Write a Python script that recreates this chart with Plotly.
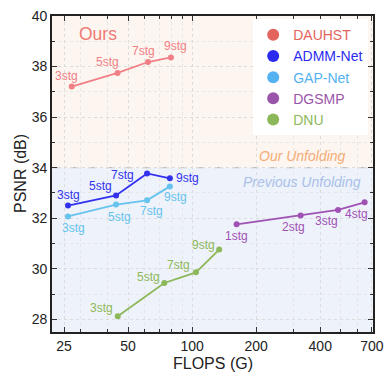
import plotly.graph_objects as go
import math

# Data
dauhst_flops = [27.17, 44.61, 62.05, 79.50]
dauhst_psnr = [37.21, 37.75, 38.18, 38.36]
dauhst_lab = ["3stg", "5stg", "7stg", "9stg"]

admm_flops = [26.1, 43.9, 61.4, 78.6]
admm_psnr = [32.50, 32.90, 33.77, 33.58]
admm_lab = ["3stg", "5stg", "7stg", "9stg"]

gap_flops = [26.1, 43.9, 61.4, 78.6]
gap_psnr = [32.07, 32.54, 32.71, 33.26]
gap_lab = ["3stg", "5stg", "7stg", "9stg"]

dgsmp_flops = [161.8, 323.6, 485.0, 646.7]
dgsmp_psnr = [31.76, 32.11, 32.33, 32.63]
dgsmp_lab = ["1stg", "2stg", "3stg", "4stg"]

dnu_flops = [44.7, 74.0, 104.2, 134.0]
dnu_psnr = [28.12, 29.44, 29.86, 30.76]
dnu_lab = ["3stg", "5stg", "7stg", "9stg"]

x_ticks = [25, 50, 100, 200, 400, 700]
x_minor = [30, 40, 60, 70, 80, 90, 300, 500, 600]
y_ticks = [28, 30, 32, 34, 36, 38, 40]

XMIN, XMAX = 21.95, 708
YMIN, YMAX = 27.5, 40
SPLIT = 34

FONT = "Liberation Sans"

# (name, x, y, labels, line colour, legend colour, label offsets in px (dx, dy-down))
series = [
    ("DAUHST", dauhst_flops, dauhst_psnr, dauhst_lab, "#f07f86", "#e3645c",
     [(-5, -11), (-10, -11), (-5, -11), (5, -11)]),
    ("ADMM-Net", admm_flops, admm_psnr, admm_lab, "#3232ee", "#2b2bf0",
     [(0, -11), (-16, -9), (-25, 2), (18, 0)]),
    ("GAP-Net", gap_flops, gap_psnr, gap_lab, "#66c3ee", "#55b2f2",
     [(5, 12), (3, 12), (4, 11), (6, 11)]),
    ("DGSMP", dgsmp_flops, dgsmp_psnr, dgsmp_lab, "#a052b4", "#9a55aa",
     [(0, 12), (-7, 12), (-12, 11), (-8, 12)]),
    ("DNU", dnu_flops, dnu_psnr, dnu_lab, "#8db85a", "#8db85a",
     [(-16, -8), (-16, -6), (-17, -7), (-16, -5)]),
]

fig = go.Figure()

# background regions
fig.add_shape(type="rect", xref="paper", yref="y", x0=0, x1=1, y0=SPLIT, y1=YMAX,
              fillcolor="#fdf6f0", line_width=0, layer="below")
fig.add_shape(type="rect", xref="paper", yref="y", x0=0, x1=1, y0=YMIN, y1=SPLIT,
              fillcolor="#eef2fa", line_width=0, layer="below")
fig.add_shape(type="line", xref="paper", yref="y", x0=0, x1=1, y0=SPLIT, y1=SPLIT,
              line=dict(color="#b4b4b4", width=1, dash="dash"), layer="below")

for name, xs, ys, labs, col, lcol, offs in series:
    fig.add_trace(go.Scatter(
        x=xs, y=ys, mode="lines+markers",
        line=dict(color=col, width=1.8), marker=dict(color=col, size=6),
        showlegend=False))
    fig.add_trace(go.Scatter(
        x=[None], y=[None], mode="markers", marker=dict(color=lcol, size=7),
        name=f"<span style='color:{lcol}'>{name}</span>", showlegend=True))
    for xv, yv, lab, (dx, dy) in zip(xs, ys, labs, offs):
        fig.add_annotation(x=math.log10(xv), y=yv, text=lab, showarrow=False,
                           xshift=dx, yshift=-dy,
                           font=dict(size=12, color=col, family=FONT))

fig.add_annotation(x=math.log10(36.2), y=39.3, text="Ours", showarrow=False,
                   font=dict(size=17.5, color="#f07a74", family=FONT))
fig.add_annotation(x=math.log10(330), y=34.47, text="<i>Our Unfolding</i>", showarrow=False,
                   font=dict(size=14, color="#f5ab76", family=FONT))
fig.add_annotation(x=math.log10(330), y=33.45, text="<i>Previous Unfolding</i>", showarrow=False,
                   font=dict(size=14, color="#a9c1ea", family=FONT))

# axis titles
fig.add_annotation(xref="paper", yref="paper", x=0.5, y=0, yshift=-31, yanchor="middle",
                   text="FLOPS (G)", showarrow=False,
                   font=dict(size=16, color="#222", family=FONT))
fig.add_annotation(xref="paper", yref="paper", x=0, y=0.5, xshift=-32, xanchor="center",
                   text="PSNR (dB)", textangle=-90, showarrow=False,
                   font=dict(size=16, color="#222", family=FONT))

axis_common = dict(showline=True, linecolor="#222", linewidth=1.6, mirror="allticks",
                   ticks="inside", ticklen=5, tickcolor="#333", automargin=False,
                   showgrid=True, gridcolor="#dcdcdc", griddash="dot", gridwidth=1,
                   zeroline=False, tickfont=dict(size=14, color="#222", family=FONT))

fig.update_xaxes(type="log", range=[math.log10(XMIN), math.log10(XMAX)],
                 tickvals=x_ticks, ticktext=[str(v) for v in x_ticks],
                 minor=dict(ticks="inside", ticklen=3, tickcolor="#333",
                            tickvals=x_minor,
                            showgrid=True, gridcolor="#e6e6e6", griddash="dot"),
                 **axis_common)
fig.update_yaxes(range=[YMIN, YMAX], tickvals=y_ticks,
                 minor=dict(ticks="inside", ticklen=3, tickcolor="#333", dtick=1,
                            showgrid=True, gridcolor="#e6e6e6", griddash="dot"),
                 **axis_common)

fig.update_layout(
    width=385, height=372,
    margin=dict(l=52, r=12, t=16, b=40),
    paper_bgcolor="white", plot_bgcolor="white",
    font=dict(family=FONT, color="#222"),
    legend=dict(x=0.985, y=0.99, xanchor="right", yanchor="top",
                bgcolor="white", borderwidth=0, font=dict(size=14, family=FONT),
                itemwidth=30, tracegroupgap=0, itemsizing="constant"),
)

fig.write_html("out.html", config={"displayModeBar": False},
               post_script="document.body.style.margin='0';document.body.style.padding='0';")
